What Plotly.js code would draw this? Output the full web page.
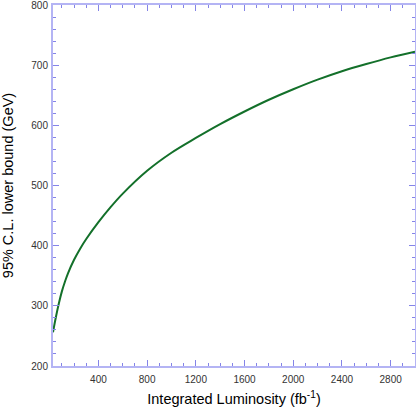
<!DOCTYPE html>
<html>
<head>
<meta charset="UTF-8">
<script src="https://cdn.plot.ly/plotly-3.0.1.min.js"></script>
<style>
  body { margin: 0; padding: 0; background: #fff; }
  #grafico { width: 416px; height: 412px; }
</style>
</head>
<body>
<div id="grafico"></div>
<script>
// luminosidade integrada (fb^-1) e limite inferior 95% C.L. (GeV)
const luminosidade = [27, 50, 75, 100, 125, 150, 200, 250, 300, 400, 500, 600, 800, 1000, 1200, 1400, 1600, 1800, 2000, 2200, 2400, 2600, 2800, 3000];
const limite = [256, 280.5, 304, 324, 340, 354, 376.5, 395, 411, 439, 464, 486.5, 524.5, 554.5, 579, 602, 623, 642.5, 660, 676, 690, 702, 713, 722.5];

const corEixo = '#b4b4f4';
const corTick = '#8484e8';

var trace = {
    x: luminosidade,
    y: limite,
    type: 'scatter',
    mode: 'lines',
    line: { color: '#13702a', width: 2, shape: 'spline', smoothing: 1 },
    hoverinfo: 'skip'
};

var layout = {
    width: 416,
    height: 412,
    margin: { l: 53, r: 1, t: 5, b: 46 },
    paper_bgcolor: '#fff',
    plot_bgcolor: '#fff',
    showlegend: false,
    font: { family: 'Liberation Sans, Arial, sans-serif', color: '#000' },
    xaxis: {
        range: [27, 3000],
        tick0: 0, dtick: 400,
        ticks: 'inside', ticklen: 6, tickwidth: 1, tickcolor: corTick,
        minor: { dtick: 100, ticks: 'inside', ticklen: 3, tickcolor: corTick },
        showline: true, linecolor: corEixo, linewidth: 2, mirror: 'ticks',
        showgrid: false, zeroline: false,
        ticklabelstandoff: 3,
        tickfont: { size: 10, color: '#333' },
        title: { text: 'Integrated Luminosity (fb<sup>-1</sup>)', font: { size: 14.5, color: '#000' }, standoff: 10 }
    },
    yaxis: {
        range: [200, 800],
        tick0: 200, dtick: 100,
        ticks: 'inside', ticklen: 6, tickwidth: 1, tickcolor: corTick,
        minor: { dtick: 20, ticks: 'inside', ticklen: 3, tickcolor: corTick },
        showline: true, linecolor: corEixo, linewidth: 2, mirror: 'ticks',
        showgrid: false, zeroline: false,
        ticklabeloverflow: 'allow',
        ticklabelstandoff: 1,
        tickfont: { size: 10, color: '#333' },
        title: { text: '95% C.L. lower bound (GeV)', font: { size: 14.5, color: '#000' }, standoff: 15 }
    }
};

Plotly.newPlot('grafico', [trace], layout, { staticPlot: true });
</script>
</body>
</html>
